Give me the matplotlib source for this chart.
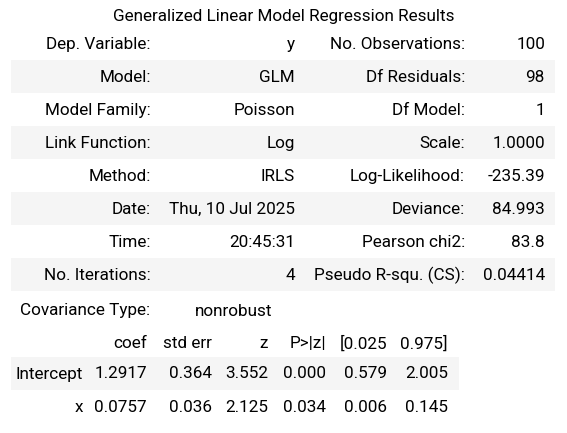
import matplotlib
matplotlib.use("Agg")
import matplotlib.pyplot as plt
from matplotlib.patches import Rectangle

plt.rcParams['font.family'] = ['Roboto', 'DejaVu Sans']

title = "Generalized Linear Model Regression Results"

left_labels = ["Dep. Variable:", "Model:", "Model Family:", "Link Function:",
               "Method:", "Date:", "Time:", "No. Iterations:"]
left_values = ["y", "GLM", "Poisson", "Log", "IRLS", "Thu, 10 Jul 2025",
               "20:45:31", "4"]
right_labels = ["No. Observations:", "Df Residuals:", "Df Model:", "Scale:",
                "Log-Likelihood:", "Deviance:", "Pearson chi2:",
                "Pseudo R-squ. (CS):"]
right_values = ["100", "98", "1", "1.0000", "-235.39", "84.993", "83.8",
                "0.04414"]

cov_label = "Covariance Type:"
cov_value = "nonrobust"

param_headers = ["", "coef", "std err", "z", "P>|z|", "[0.025", "0.975]"]
param_names = ["Intercept", "x"]
coef = ["1.2917", "0.0757"]
std_err = ["0.364", "0.036"]
z_vals = ["3.552", "2.125"]
p_vals = ["0.000", "0.034"]
ci_low = ["0.579", "0.006"]
ci_high = ["2.005", "0.145"]

W, H = 567, 433
fig = plt.figure(figsize=(W / 100, H / 100), dpi=100)
ax = fig.add_axes([0, 0, 1, 1])
ax.set_xlim(0, W)
ax.set_ylim(H, 0)
ax.axis('off')

fs = 12.3
stripe = '#f5f5f5'
txt = '#000000'

ax.text(W / 2, 17, title, ha='center', va='center', fontsize=fs, color=txt)

# summary table
row_h = 32.9
top = 27.5
col_x = [151, 295, 465, 545]
for i in range(len(left_labels)):
    y0 = top + i * row_h
    if i % 2 == 1:
        ax.add_patch(Rectangle((11, y0), 544, row_h, color=stripe, lw=0))
    yc = y0 + row_h / 2 + 1
    row = [left_labels[i], left_values[i], right_labels[i], right_values[i]]
    for x, s in zip(col_x, row):
        ax.text(x, yc, s, ha='right', va='center', fontsize=fs, color=txt)

# covariance row
ax.text(20, 311, cov_label, ha='left', va='center', fontsize=fs, color=txt)
ax.text(272, 311, cov_value, ha='right', va='center', fontsize=fs, color=txt)

# parameter table
pcols = [83, 147, 212, 268, 326, 387, 448]
for x, s in zip(pcols, param_headers):
    ax.text(x, 344, s, ha='right', va='center', fontsize=fs, color=txt)

ax.add_patch(Rectangle((11, 357), 448, 33, color=stripe, lw=0))
for j in range(len(param_names)):
    yc = 374 + j * 33
    row = [param_names[j], coef[j], std_err[j], z_vals[j], p_vals[j],
           ci_low[j], ci_high[j]]
    for x, s in zip(pcols, row):
        ax.text(x, yc, s, ha='right', va='center', fontsize=fs, color=txt)

fig.savefig("out.png", dpi=100, facecolor='white')
